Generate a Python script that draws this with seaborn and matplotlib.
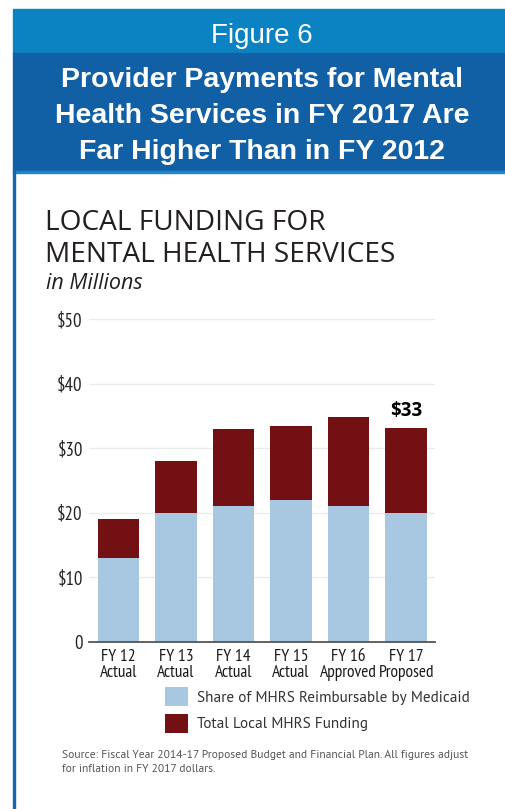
import matplotlib
matplotlib.use("Agg")
import matplotlib.pyplot as plt
import pandas as pd
import seaborn as sns
from matplotlib.patches import Rectangle

# Local funding for mental health services, in millions of FY 2017 dollars
years = ["FY 12\nActual", "FY 13\nActual", "FY 14\nActual",
         "FY 15\nActual", "FY 16\nApproved", "FY 17\nProposed"]
total_funding = [19.0, 28.0, 32.9, 33.4, 34.9, 33.2]
medicaid_share = [13.0, 20.0, 21.0, 22.0, 21.0, 20.0]
y_ticks = [0, 10, 20, 30, 40, 50]
y_tick_labels = ["0", "\\$10", "\\$20", "\\$30", "\\$40", "\\$50"]

df = pd.DataFrame({"year": years, "total": total_funding, "medicaid": medicaid_share})

LIGHT = "#a8c7e0"
DARK = "#721013"
HEADER_LIGHT = "#0b83c2"
HEADER_DARK = "#1160a6"
BORDER = "#1566b2"

sns.set_theme(style="white")
plt.rcParams["font.family"] = ["Open Sans", "DejaVu Sans"]
NARROW = ["PT Sans Narrow", "DejaVu Sans"]
HUMANIST = ["PT Sans", "Open Sans", "DejaVu Sans"]
HEADER_FONT = ["Liberation Sans", "DejaVu Sans"]

W, H = 506, 809
fig = plt.figure(figsize=(W / 100, H / 100), dpi=100)
fig.patch.set_facecolor("white")


def fx(px):
    return px / W


def fy(py):
    return 1 - py / H


# Header bands and left border
fig.patches.append(Rectangle((fx(13), fy(53)), fx(W - 13), (53 - 9) / H,
                             transform=fig.transFigure, color=HEADER_LIGHT, zorder=0))
fig.patches.append(Rectangle((fx(13), fy(171)), fx(W - 13), (171 - 53) / H,
                             transform=fig.transFigure, color=HEADER_DARK, zorder=0))
fig.patches.append(Rectangle((fx(13), fy(173)), fx(W - 13), 2 / H,
                             transform=fig.transFigure, color="#1a87c9", zorder=0))
fig.patches.append(Rectangle((fx(13), 0), fx(2.5), fy(171),
                             transform=fig.transFigure, color=BORDER, zorder=0))

fig.text(fx(262), fy(43), "Figure 6", color="white", fontsize=20,
         ha="center", va="baseline", family=HEADER_FONT)
for line, base in zip(["Provider Payments for Mental",
                       "Health Services in FY 2017 Are",
                       "Far Higher Than in FY 2012"], [87, 123, 159]):
    fig.text(fx(262), fy(base), line, color="white", fontsize=20.5, fontweight="bold",
             ha="center", va="baseline", family=HEADER_FONT)

# Chart titles
fig.text(fx(45), fy(230), "LOCAL FUNDING FOR", color="#231f20", fontsize=20.2,
         ha="left", va="baseline")
fig.text(fx(45), fy(262), "MENTAL HEALTH SERVICES", color="#231f20", fontsize=20.2,
         ha="left", va="baseline")
fig.text(fx(46), fy(289), "in Millions", color="#231f20", fontsize=15.5,
         style="italic", ha="left", va="baseline")

# Stacked bars: total drawn first, Medicaid share on top of it
ax = fig.add_axes([fx(89), fy(642), fx(435 - 89), (642 - 319) / H])
sns.barplot(data=df, x="year", y="total", color=DARK, saturation=1, width=0.72,
            linewidth=0, ax=ax, label="Total Local MHRS Funding", zorder=2)
sns.barplot(data=df, x="year", y="medicaid", color=LIGHT, saturation=1, width=0.72,
            linewidth=0, ax=ax, label="Share of MHRS Reimbursable by Medicaid", zorder=3)

ax.set_xlim(-0.51, 5.5)
ax.set_ylim(0, 50)
ax.set_yticks(y_ticks)
ax.set_yticklabels(y_tick_labels)
ax.set_xlabel("")
ax.set_ylabel("")
ax.yaxis.grid(True, color="#ebebeb", linewidth=1)
ax.set_axisbelow(True)
for side in ["top", "right", "left"]:
    ax.spines[side].set_visible(False)
ax.spines["bottom"].set_color("#555555")
ax.spines["bottom"].set_linewidth(1.3)
ax.spines["bottom"].set_zorder(5)
ax.tick_params(axis="y", length=0, pad=4.5, labelsize=13.5, labelcolor="#222222")
ax.tick_params(axis="x", length=0, pad=5, labelsize=12.5, labelcolor="#1a1a1a")
for lbl in ax.get_yticklabels():
    lbl.set_family(NARROW)
for lbl in ax.get_xticklabels():
    lbl.set_family(NARROW)
    lbl.set_linespacing(1.02)

# Value label on the latest bar
last = len(total_funding) - 1
ax.annotate(f"\\${total_funding[last]:.0f}", xy=(last, total_funding[last]),
            xytext=(0, 5), textcoords="offset points", ha="center", va="bottom",
            fontsize=13.5, fontweight="bold", color="black")

handles, labels = ax.get_legend_handles_labels()
order = [labels.index("Share of MHRS Reimbursable by Medicaid"),
         labels.index("Total Local MHRS Funding")]
leg = ax.legend([handles[i] for i in order], [labels[i] for i in order],
                loc="upper left", bbox_to_anchor=(fx(165), fy(687)),
                bbox_transform=fig.transFigure, frameon=False,
                prop={"family": HUMANIST, "size": 11},
                handlelength=1.5, handleheight=1.55, handletextpad=0.6,
                labelspacing=0.5, borderpad=0, borderaxespad=0)
for t in leg.get_texts():
    t.set_color("#333333")

fig.text(fx(62), fy(758),
         "Source: Fiscal Year 2014-17 Proposed Budget and Financial Plan. All figures adjust",
         color="#555555", fontsize=8.3, ha="left", va="baseline", family=HUMANIST)
fig.text(fx(62), fy(772), "for inflation in FY 2017 dollars.",
         color="#555555", fontsize=8.3, ha="left", va="baseline", family=HUMANIST)

fig.savefig("out.png", dpi=100, facecolor="white")
